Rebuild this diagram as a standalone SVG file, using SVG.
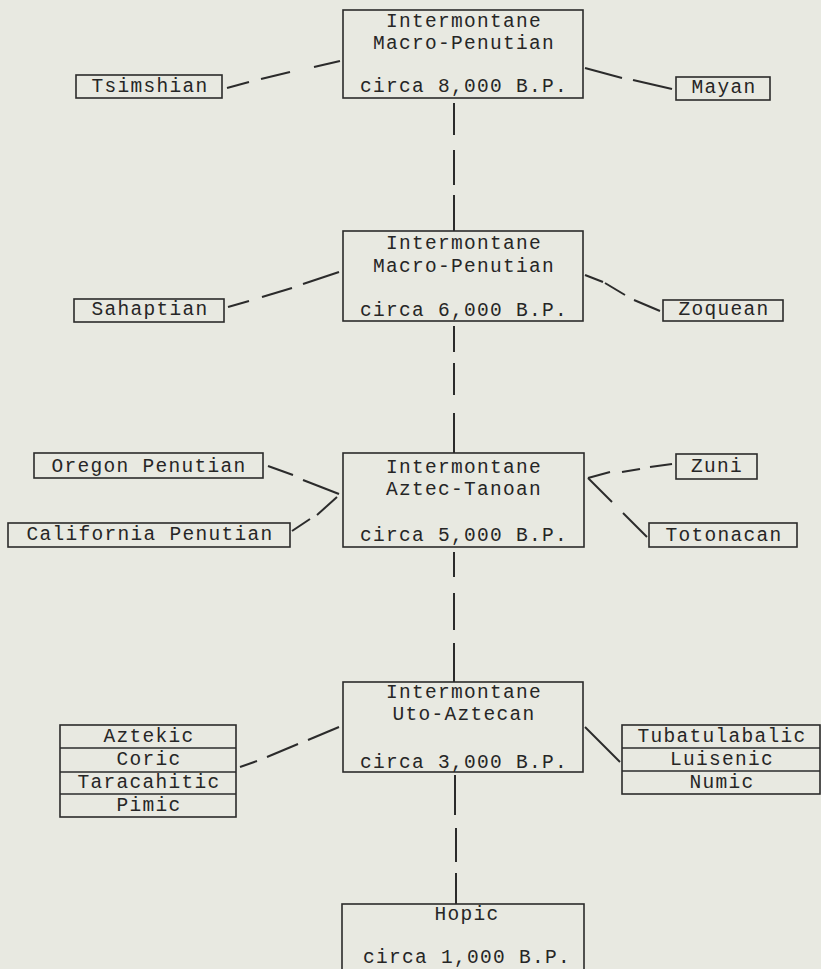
<svg xmlns="http://www.w3.org/2000/svg" width="821" height="969" viewBox="0 0 821 969">
<style>
.bx{fill:none;stroke:#2b2b2b;stroke-width:1.6}
.t{font-family:"Liberation Mono","Courier New",monospace;font-size:19.5px;letter-spacing:1.3px;fill:#262626;text-anchor:middle}
.c line{stroke:#2b2b2b;stroke-width:2;stroke-linecap:butt}
</style>
<rect width="821" height="969" fill="#e8e9e1"/>
<g class="c" id="connectors">
<line x1="454" y1="103" x2="454" y2="135"/><line x1="454" y1="150" x2="454" y2="185"/><line x1="454" y1="195" x2="454" y2="231"/>
<line x1="454" y1="326" x2="454" y2="352"/><line x1="454" y1="363" x2="454" y2="395"/><line x1="454" y1="413" x2="454" y2="453"/>
<line x1="454" y1="552" x2="454" y2="577"/><line x1="454" y1="593" x2="454" y2="630"/><line x1="454" y1="643" x2="454" y2="682"/>
<line x1="455" y1="775" x2="455" y2="815"/><line x1="456" y1="828" x2="456" y2="862"/><line x1="456" y1="873" x2="456" y2="904"/>
<line x1="227" y1="88" x2="249" y2="82"/><line x1="261" y1="79" x2="290" y2="72"/><line x1="314" y1="67" x2="340" y2="61"/>
<line x1="585" y1="68" x2="622" y2="78"/><line x1="633" y1="80" x2="672" y2="89"/>
<line x1="228" y1="307" x2="249" y2="301"/><line x1="262" y1="297" x2="292" y2="288"/><line x1="303" y1="284" x2="339" y2="272"/>
<line x1="585" y1="275" x2="603" y2="282"/><line x1="605" y1="283" x2="625" y2="295"/><line x1="634" y1="300" x2="660" y2="311"/>
<line x1="268" y1="466" x2="293" y2="475"/><line x1="303" y1="480" x2="339" y2="494"/>
<line x1="292" y1="531" x2="310" y2="519"/><line x1="317" y1="515" x2="337" y2="497"/>
<line x1="588" y1="478" x2="610" y2="472"/><line x1="622" y1="472" x2="640" y2="469"/><line x1="650" y1="467" x2="672" y2="464"/>
<line x1="588" y1="478" x2="612" y2="502"/><line x1="623" y1="513" x2="647" y2="537"/>
<line x1="240" y1="767" x2="257" y2="761"/><line x1="267" y1="757" x2="298" y2="744"/><line x1="308" y1="740" x2="339" y2="727"/>
<line x1="585" y1="727" x2="620" y2="762"/>
</g>
<g id="n1"><rect class="bx" x="343" y="10" width="240" height="88"/>
<text class="t" x="464" y="27">Intermontane</text><text class="t" x="464" y="49">Macro-Penutian</text><text class="t" x="464" y="92">circa 8,000 B.P.</text></g>
<g id="tsimshian"><rect class="bx" x="76" y="75" width="146" height="23"/><text class="t" x="150" y="92">Tsimshian</text></g>
<g id="mayan"><rect class="bx" x="676" y="77" width="94" height="23"/><text class="t" x="724" y="93">Mayan</text></g>
<g id="n2"><rect class="bx" x="343" y="231" width="240" height="90"/>
<text class="t" x="464" y="249">Intermontane</text><text class="t" x="464" y="272">Macro-Penutian</text><text class="t" x="464" y="316">circa 6,000 B.P.</text></g>
<g id="sahaptian"><rect class="bx" x="74" y="299" width="150" height="23"/><text class="t" x="150" y="315">Sahaptian</text></g>
<g id="zoquean"><rect class="bx" x="663" y="300" width="120" height="21"/><text class="t" x="724" y="315">Zoquean</text></g>
<g id="n3"><rect class="bx" x="343" y="453" width="241" height="94"/>
<text class="t" x="464" y="473">Intermontane</text><text class="t" x="464" y="495">Aztec-Tanoan</text><text class="t" x="464" y="541">circa 5,000 B.P.</text></g>
<g id="oregon"><rect class="bx" x="34" y="453" width="229" height="25"/><text class="t" x="149" y="472">Oregon Penutian</text></g>
<g id="california"><rect class="bx" x="8" y="523" width="282" height="24"/><text class="t" x="150" y="540">California Penutian</text></g>
<g id="zuni"><rect class="bx" x="676" y="454" width="81" height="25"/><text class="t" x="717" y="472">Zuni</text></g>
<g id="totonacan"><rect class="bx" x="649" y="523" width="148" height="24"/><text class="t" x="724" y="541">Totonacan</text></g>
<g id="n4"><rect class="bx" x="343" y="682" width="240" height="90"/>
<text class="t" x="464" y="698">Intermontane</text><text class="t" x="464" y="720">Uto-Aztecan</text><text class="t" x="464" y="768">circa 3,000 B.P.</text></g>
<g id="aztecan-left"><rect class="bx" x="60" y="725" width="176" height="92"/>
<line class="bx" x1="60" y1="748" x2="236" y2="748"/><line class="bx" x1="60" y1="772" x2="236" y2="772"/><line class="bx" x1="60" y1="794" x2="236" y2="794"/>
<text class="t" x="149" y="742">Aztekic</text><text class="t" x="149" y="765">Coric</text><text class="t" x="149" y="788">Taracahitic</text><text class="t" x="149" y="811">Pimic</text></g>
<g id="aztecan-right"><rect class="bx" x="622" y="725" width="198" height="69"/>
<line class="bx" x1="622" y1="748" x2="820" y2="748"/><line class="bx" x1="622" y1="771" x2="820" y2="771"/>
<text class="t" x="722" y="742">Tubatulabalic</text><text class="t" x="722" y="765">Luisenic</text><text class="t" x="722" y="788">Numic</text></g>
<g id="n5"><rect class="bx" x="342" y="904" width="242" height="80"/>
<text class="t" x="467" y="920">Hopic</text><text class="t" x="467" y="963">circa 1,000 B.P.</text></g>
</svg>
